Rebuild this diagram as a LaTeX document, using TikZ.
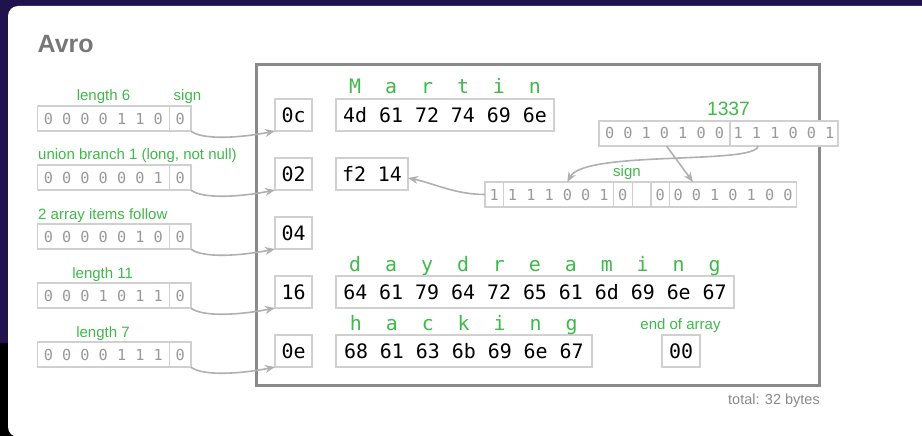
\documentclass[tikz,border=0pt]{standalone}
\usepackage{fontspec}
\setmainfont{Liberation Sans}
\newfontfamily\monof{DejaVu Sans Mono}
\usetikzlibrary{arrows.meta}
\definecolor{navy}{HTML}{20124D}
\definecolor{grn}{HTML}{40B94B}
\definecolor{boxgray}{HTML}{D0D0D0}
\definecolor{framegray}{HTML}{8A8A8A}
\definecolor{bitgray}{HTML}{999999}
\definecolor{arrowgray}{HTML}{B0B0B0}
\definecolor{titlegray}{HTML}{777777}
\begin{document}
\begin{tikzpicture}[x=1pt,y=-1pt,
  grnlabel/.style={font=\fontsize{15}{18}\selectfont, text=grn, inner sep=0pt, anchor=base},
  bitcell/.style={draw=boxgray, line width=1.5pt, fill=white, outer sep=0pt, inner sep=0pt,
    minimum height=25pt, font=\monof\fontsize{15.2}{18}\selectfont, text=bitgray,
    anchor=west, text height=11pt, text depth=0pt},
  hexbox/.style={draw=boxgray, line width=1.8pt, fill=white, outer sep=0pt, inner sep=0pt,
    minimum height=32pt, font=\monof\fontsize{19.9}{24}\selectfont, text=black,
    text height=14.5pt, text depth=0pt},
  hexletter/.style={font=\monof\fontsize{19.9}{24}\selectfont, text=grn, inner sep=0pt, anchor=base},
  conn/.style={draw=arrowgray, line width=1.6pt, -{Stealth[length=10pt,width=8pt]}},
]
\useasboundingbox (0,0) rectangle (922,436);
% background
\fill[navy] (0,0) rectangle (922,436);
\fill[black] (0,343) rectangle (30,436);
\fill[white, rounded corners=10pt] (8,6) rectangle (950,437);

% title
\node[anchor=base west, inner sep=0pt, font=\bfseries\fontsize{25}{30}\selectfont, text=titlegray] (title) at (37.5,52.5) {Avro};

% frame
\draw[framegray, line width=3pt] (256,65) rectangle (819,385);

% left bit rows
\node[bitcell, minimum width=132pt] (l1a) at (37.3,118.7) {0 0 0 0 1 1 0};
\node[bitcell, minimum width=21.7pt] (l1b) at (l1a.east) {0};
\node[bitcell, minimum width=132pt] (l2a) at (37.3,177.7) {0 0 0 0 0 0 1};
\node[bitcell, minimum width=21.7pt] (l2b) at (l2a.east) {0};
\node[bitcell, minimum width=132pt] (l3a) at (37.3,236.7) {0 0 0 0 0 1 0};
\node[bitcell, minimum width=21.7pt] (l3b) at (l3a.east) {0};
\node[bitcell, minimum width=132pt] (l4a) at (37.3,295.7) {0 0 0 1 0 1 1};
\node[bitcell, minimum width=21.7pt] (l4b) at (l4a.east) {0};
\node[bitcell, minimum width=132pt] (l5a) at (37.3,354.7) {0 0 0 0 1 1 1};
\node[bitcell, minimum width=21.7pt] (l5b) at (l5a.east) {0};

% left labels
\node[grnlabel] (t1) at (103.5,101) {length 6};
\node[grnlabel] (t1s) at (187.5,101) {sign};
\node[grnlabel, anchor=base west] (t2) at (38,160) {union branch 1 (long, not null)};
\node[grnlabel, anchor=base west] (t3) at (38,219) {2 array items follow};
\node[grnlabel] (t4) at (102.7,278) {length 11};
\node[grnlabel] (t5) at (103,337) {length 7};

% hex prefix boxes
\node[hexbox, minimum width=37pt] (h1) at (293.5,115) {0c};
\node[hexbox, minimum width=37pt] (h2) at (293.5,174) {02};
\node[hexbox, minimum width=37pt] (h3) at (293.5,233) {04};
\node[hexbox, minimum width=37pt] (h4) at (293.5,292) {16};
\node[hexbox, minimum width=37pt] (h5) at (293.5,351) {0e};

% value boxes
\node[hexbox, minimum width=218pt] (v1) at (445,115) {4d 61 72 74 69 6e};
\node[hexbox, minimum width=72pt] (v2) at (372,174) {f2 14};
\node[hexbox, minimum width=398pt] (v4) at (535,292) {64 61 79 64 72 65 61 6d 69 6e 67};
\node[hexbox, minimum width=255.7pt] (v5) at (463.85,351) {68 61 63 6b 69 6e 67};
\node[hexbox, minimum width=38pt] (v6) at (681,351) {00};

% letters
\foreach \c [count=\i from 0] in {M,a,r,t,i,n}
  \node[hexletter] (ma\i) at ({355.2+35.94*\i},93.3) {\c};
\foreach \c [count=\i from 0] in {d,a,y,d,r,e,a,m,i,n,g}
  \node[hexletter] (da\i) at ({355.2+35.94*\i},271.7) {\c};
\foreach \c [count=\i from 0] in {h,a,c,k,i,n,g}
  \node[hexletter] (ha\i) at ({355.9+35.94*\i},330) {\c};

\node[grnlabel] (eoa) at (680.5,329.5) {end of array};

% 1337 row
\node[grnlabel, font=\fontsize{19.3}{22}\selectfont] (n1337) at (728.5,116) {1337};
\node[bitcell, minimum width=131pt] (b1) at (599,133.5) {0 0 1 0 1 0 0};
\node[bitcell, minimum width=108pt] (b2) at (b1.east) {1 1 1 0 0 1};

% middle row
\node[bitcell, minimum width=18.3pt] (m1) at (485,194.5) {1};
\node[bitcell, minimum width=110pt] (m2) at (m1.east) {1 1 1 0 0 1};
\node[bitcell, minimum width=19pt] (m3) at (m2.east) {0};
\node[bitcell, minimum width=18.7pt] (m4) at (m3.east) {};
\node[bitcell, minimum width=18.3pt] (m5) at (m4.east) {0};
\node[bitcell, minimum width=127.4pt] (m6) at (m5.east) {0 0 1 0 1 0 0};
\node[grnlabel] (msign) at (627,176) {sign};

% total
\node[anchor=base east, inner sep=0pt, font=\fontsize{14.5}{17}\selectfont, text=framegray] (total) at (820,404) {total: 32 bytes};

% connectors
\draw[conn] (l1b.south east) .. controls +(12,9) and +(-35,7) .. (h1.south west);
\draw[conn] (l2b.south east) .. controls +(12,9) and +(-35,7) .. (h2.south west);
\draw[conn] (l3b.south east) .. controls +(12,9) and +(-35,7) .. (h3.south west);
\draw[conn] (l4b.south east) .. controls +(12,9) and +(-35,7) .. (h4.south west);
\draw[conn] (l5b.south east) .. controls +(12,9) and +(-35,7) .. (h5.south west);
\draw[conn] ([xshift=-26pt]b2.south) .. controls +(-2,19) and +(17.7,-32) .. ([xshift=9pt]m2.north);
\draw[conn] ([xshift=2pt]b1.south) -- ([xshift=-40pt]m6.north);
\draw[conn] (m1.west) .. controls +(-30,0) and +(25,5) .. ([yshift=-4pt]v2.east);
\end{tikzpicture}
\end{document}
